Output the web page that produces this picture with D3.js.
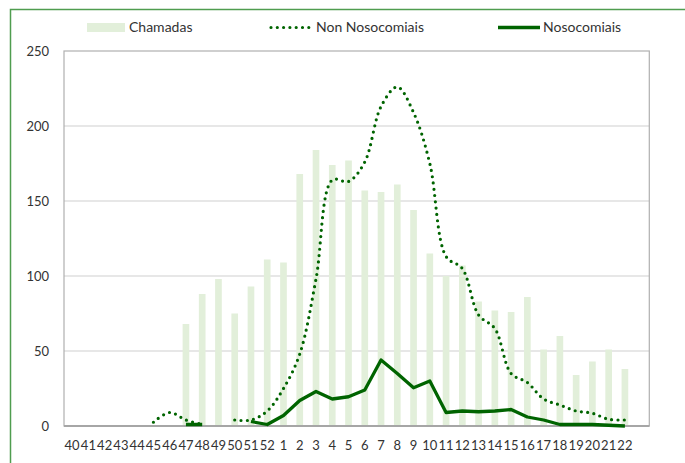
<!DOCTYPE html>
<html>
<head>
<meta charset="utf-8">
<script src="https://cdn.jsdelivr.net/npm/d3@7"></script>
<style>
  html, body { margin: 0; padding: 0; background: #ffffff; }
  svg { display: block; }
  text { font-family: Lato, "Open Sans", sans-serif; fill: #333333; }
</style>
</head>
<body>
<div id="chart"></div>
<script>
// ---- data ----
const weeks = ["40","41","42","43","44","45","46","47","48","49","50","51","52",
  "1","2","3","4","5","6","7","8","9","10","11","12","13","14","15","16","17","18","19","20","21","22",""];
const chamadas = [null,null,null,null,null,null,null,
  68,88,98,75,93,111,
  109,168,184,174,177,157,156,161,144,115,100,107,83,77,76,86,51,60,34,43,51,38,
  null];
const nonNosocomiais = [null,null,null,null,null,2.5,9,4,1,null,4,4,10,
  25,48,98,164,163,176,213,226,209,175,113,105,74,65,35,29,18,14,10,8.5,4.5,4,
  null];
const nosocomiais = [null,null,null,null,null,null,null,1,1,null,null,3,1,
  7,17,23,18,19.5,24,44,35,25.5,30,9,10,9.5,10,11,6,4,1,1,1,0.5,0,
  null];
const yTicks = [0,50,100,150,200,250];
const seriesNames = ["Chamadas","Non Nosocomiais","Nosocomiais"];

// ---- layout ----
const W = 685, H = 463;
const plot = {left: 64, right: 649.3, top: 51, bottom: 426};
const barColor = "#e2efda", lineColor = "#006400";

const svg = d3.select("#chart").append("svg").attr("width", W).attr("height", H);

// outer green frame
svg.append("path")
  .attr("d", `M10.5,${H} L10.5,9.5 L${W},9.5`)
  .attr("fill","none").attr("stroke","#4f9d4f").attr("stroke-width",1.5);

const idx = d3.range(weeks.length);
const x = d3.scaleBand().domain(idx).range([plot.left, plot.right]);
const y = d3.scaleLinear().domain([0,250]).range([plot.bottom, plot.top]);

// gridlines
svg.append("g").selectAll("line").data(yTicks.filter(t => t > 0 && t < 250)).join("line")
  .attr("x1", plot.left).attr("x2", plot.right)
  .attr("y1", d => y(d)).attr("y2", d => y(d))
  .attr("stroke","#d0d0d0").attr("stroke-width",1.2);

// bars
const bw = x.bandwidth()*0.41;
svg.append("g").selectAll("rect").data(idx.filter(i => chamadas[i] != null)).join("rect")
  .attr("x", i => x(i) + x.bandwidth()/2 - bw/2)
  .attr("width", bw)
  .attr("y", i => y(chamadas[i]))
  .attr("height", i => y(0) - y(chamadas[i]))
  .attr("fill", barColor);

// plot border
svg.append("rect")
  .attr("x", plot.left).attr("y", plot.top)
  .attr("width", plot.right - plot.left).attr("height", plot.bottom - plot.top)
  .attr("fill","none").attr("stroke","#b0b0b0").attr("stroke-width",1.2);
svg.append("line")
  .attr("x1", plot.left).attr("x2", plot.right)
  .attr("y1", y(0)).attr("y2", y(0))
  .attr("stroke","#a6a6a6").attr("stroke-width",1.8);

// lines
const cx = i => x(i) + x.bandwidth()/2;
const dotted = d3.line()
  .defined(i => nonNosocomiais[i] != null)
  .x(cx).y(i => y(nonNosocomiais[i]))
  .curve(d3.curveCatmullRom.alpha(0.5));
svg.append("path").attr("d", dotted(idx))
  .attr("fill","none").attr("stroke", lineColor)
  .attr("stroke-width",3.2).attr("stroke-linecap","round")
  .attr("stroke-dasharray","0 6.3");

const solid = d3.line()
  .defined(i => nosocomiais[i] != null)
  .x(cx).y(i => y(nosocomiais[i]));
svg.append("path").attr("d", solid(idx))
  .attr("fill","none").attr("stroke", lineColor)
  .attr("stroke-width",3.3).attr("stroke-linejoin","round");

// axes
const yAxis = svg.append("g").attr("transform", `translate(${plot.left},0)`)
  .call(d3.axisLeft(y).tickValues(yTicks).tickSize(0).tickPadding(15));
yAxis.select(".domain").remove();
yAxis.selectAll("text").style("font-size","13px").style("font-family","Lato, sans-serif").attr("fill","#333");

const xAxis = svg.append("g").attr("transform", `translate(0,${plot.bottom})`)
  .call(d3.axisBottom(x).tickFormat(i => weeks[i]).tickSize(0).tickPadding(15));
xAxis.select(".domain").remove();
xAxis.selectAll("text").style("font-size","13px").style("font-family","Lato, sans-serif").attr("fill","#333");

// legend
const lg = svg.append("g").attr("class","legend");
const ly = 27.5;
lg.append("rect").attr("x",87).attr("y",ly-4.5).attr("width",38).attr("height",9).attr("fill",barColor);
lg.append("text").attr("x",129).attr("y",ly).attr("dy","0.35em").style("font-size","14px").text(seriesNames[0]);
lg.append("line").attr("x1",271).attr("x2",309).attr("y1",ly).attr("y2",ly)
  .attr("stroke",lineColor).attr("stroke-width",3.2).attr("stroke-linecap","round").attr("stroke-dasharray","0 6.3");
lg.append("text").attr("x",316).attr("y",ly).attr("dy","0.35em").style("font-size","14px").text(seriesNames[1]);
lg.append("line").attr("x1",498).attr("x2",540).attr("y1",ly).attr("y2",ly)
  .attr("stroke",lineColor).attr("stroke-width",3.3);
lg.append("text").attr("x",543).attr("y",ly).attr("dy","0.35em").style("font-size","14px").text(seriesNames[2]);
</script>
</body>
</html>
